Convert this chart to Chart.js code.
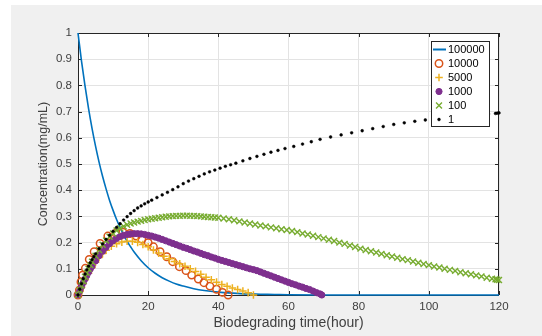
<!DOCTYPE html>
<html>
<head>
<meta charset="utf-8">
<script src="https://cdn.jsdelivr.net/npm/chart.js@4.4.1/dist/chart.umd.min.js"></script>
<style>
  html, body { margin: 0; padding: 0; background: #fff; }
  canvas { display: block; }
</style>
</head>
<body>
<canvas id="conc" width="542" height="336"></canvas>
<script>
// series names (legend)
const seriesNames = ["100000", "10000", "5000", "1000", "100", "1"];

// 100000 - solid line
const t100000 = [0, 1, 2, 3, 4, 5, 6, 7, 8, 9, 10, 11, 12, 13, 14, 15, 16, 18, 20, 22, 24, 26, 28, 30,
  33, 36, 40, 44, 48, 52, 56, 60, 70, 80, 90, 100, 110, 120];
const y100000 = [1, 0.893, 0.798, 0.712, 0.636, 0.568, 0.507, 0.453, 0.405, 0.361, 0.323, 0.288, 0.258,
  0.23, 0.205, 0.184, 0.164, 0.131, 0.104, 0.083, 0.066, 0.053, 0.042, 0.034,
  0.024, 0.017, 0.011, 0.007, 0.004, 0.003, 0.002, 0.001, 0, 0, 0, 0, 0, 0];

// 10000 - open circles
const t10000 = [0, 0.4, 0.85, 1.3, 2.1, 3.2, 4.6, 6.3, 8.5, 10.8, 12.8, 14.8, 16.6, 18.2, 20,
  21.5, 23.4, 25.3, 27, 28.9, 30.8, 32.4, 34.3, 35.9, 37.6, 39.5, 41.2, 42.8];
const y10000 = [0, 0.019, 0.05, 0.076, 0.102, 0.136, 0.165, 0.197, 0.225, 0.236, 0.24, 0.235, 0.225, 0.213, 0.2,
  0.184, 0.165, 0.146, 0.127, 0.108, 0.093, 0.076, 0.061, 0.047, 0.034, 0.022, 0.01, 0];

// 5000 - plus
const t5000 = [0, 0.5, 1, 1.5, 2, 3, 4, 5, 6, 7, 8, 9.5, 11, 12.5, 14, 15.5, 17, 18.5, 20,
  21.5, 23, 24.5, 26, 27.5, 29, 30.5, 32, 33.5, 35, 36.5, 38, 39.5, 41, 42.5, 44, 45.5, 47, 48.5, 50];
const y5000 = [0, 0.015, 0.03, 0.044, 0.058, 0.083, 0.105, 0.125, 0.143, 0.158, 0.171, 0.186, 0.196, 0.202, 0.205, 0.205, 0.201, 0.193, 0.184,
  0.172, 0.16, 0.148, 0.138, 0.128, 0.119, 0.11, 0.1, 0.09, 0.079, 0.068, 0.058, 0.049, 0.04, 0.033, 0.027, 0.021, 0.015, 0.009, 0];

// 1000 - filled circles
const t1000 = [0, 0.5, 1, 1.5, 2, 2.5, 3, 3.5, 4,
  5, 6, 7, 8, 9, 10, 11, 12, 13, 14,
  15, 16, 17, 18, 19, 20, 21, 22, 23, 24,
  25, 26, 27, 28, 29, 30, 31, 32, 33, 34,
  35, 36, 37, 38, 39, 40, 41, 42, 43, 44,
  45, 46, 47, 48, 49, 50, 51, 52, 53, 54,
  55, 56, 57, 58, 59, 60, 61, 62, 63, 64,
  65, 66, 67, 68, 69, 69.5];
const y1000 = [0, 0.016, 0.032, 0.047, 0.061, 0.074, 0.087, 0.099, 0.11,
  0.13, 0.15, 0.167, 0.182, 0.196, 0.207, 0.216, 0.223, 0.228, 0.231,
  0.233, 0.234, 0.234, 0.233, 0.231, 0.228, 0.225, 0.221, 0.217, 0.212,
  0.207, 0.202, 0.197, 0.192, 0.187, 0.182, 0.178, 0.173, 0.168, 0.164,
  0.159, 0.154, 0.15, 0.145, 0.141, 0.136, 0.132, 0.128, 0.124, 0.12,
  0.116, 0.112, 0.108, 0.104, 0.1, 0.097, 0.093, 0.088, 0.083, 0.078,
  0.073, 0.068, 0.063, 0.058, 0.053, 0.048, 0.043, 0.039, 0.034, 0.03,
  0.025, 0.021, 0.015, 0.009, 0.004, 0];

// 100 - x marks
const t100 = [0, 0.5, 1, 1.5, 2, 2.5, 3, 3.5, 4,
  5, 6, 7, 8, 9, 10, 11, 12, 13, 14,
  15, 16, 17, 18, 19, 20, 21, 22, 23, 24,
  25, 26, 27, 28, 29, 30, 31, 32, 33, 34,
  35, 36, 37, 38, 39, 40,
  41.5, 43, 44.5, 46, 47.5, 49, 50.5, 52, 53.5, 55,
  56.5, 58, 59.5, 61, 62.5, 64, 65.5, 67, 68.5, 70,
  71.5, 73, 74.5, 76, 77.5, 79, 80.5, 82, 83.5, 85,
  86.5, 88, 89.5, 91, 92.5, 94, 95.5, 97, 98.5, 100,
  101.5, 103, 104.5, 106, 107.5, 109, 110.5, 112, 113.5, 115,
  116.5, 118, 119, 119.5, 120];
const y100 = [0, 0.018, 0.036, 0.053, 0.07, 0.085, 0.1, 0.114, 0.127,
  0.15, 0.172, 0.192, 0.208, 0.222, 0.235, 0.246, 0.255, 0.262, 0.268,
  0.273, 0.277, 0.28, 0.283, 0.286, 0.289, 0.291, 0.293, 0.295, 0.297,
  0.299, 0.3, 0.301, 0.302, 0.302, 0.303, 0.303, 0.302, 0.302, 0.301,
  0.3, 0.299, 0.298, 0.297, 0.296, 0.295,
  0.292, 0.289, 0.285, 0.281, 0.277, 0.273, 0.269, 0.265, 0.262, 0.258,
  0.255, 0.251, 0.248, 0.244, 0.24, 0.235, 0.231, 0.226, 0.221, 0.216,
  0.211, 0.206, 0.2, 0.195, 0.189, 0.183, 0.177, 0.172, 0.167, 0.162,
  0.157, 0.152, 0.147, 0.142, 0.137, 0.133, 0.128, 0.123, 0.118, 0.114,
  0.109, 0.105, 0.1, 0.096, 0.092, 0.087, 0.083, 0.079, 0.075, 0.071,
  0.066, 0.062, 0.06, 0.058, 0.057];

// 1 - dots
const t1 = [0, 0.5, 1, 1.5, 2, 2.5, 3, 3.5, 4, 4.5,
  5, 6, 7, 8, 9, 10, 11, 12, 13, 14, 15, 16, 17, 18, 19, 20, 21,
  22.5, 24, 25.5, 27, 28.5, 30, 31.5, 33, 34.5, 36, 37.5, 39, 40.5, 42, 43.5, 45,
  47, 49, 51, 53, 55, 57, 59,
  61.5, 64, 66.5, 69,
  72, 75, 78, 81, 84, 87, 90, 93, 96, 99, 102, 105, 108, 111, 114, 117,
  119, 119.5, 120];
const y1 = [0, 0.022, 0.043, 0.062, 0.08, 0.096, 0.11, 0.123, 0.135, 0.146,
  0.157, 0.177, 0.195, 0.212, 0.228, 0.243, 0.258, 0.272, 0.286, 0.299, 0.311, 0.322, 0.332, 0.34, 0.348, 0.355, 0.362,
  0.372, 0.382, 0.392, 0.402, 0.413, 0.425, 0.435, 0.444, 0.453, 0.462, 0.47, 0.477, 0.484, 0.491, 0.497, 0.503,
  0.512, 0.521, 0.529, 0.537, 0.545, 0.552, 0.559,
  0.567, 0.576, 0.585, 0.594,
  0.603, 0.611, 0.619, 0.627, 0.635, 0.643, 0.651, 0.657, 0.663, 0.668, 0.673, 0.677, 0.681, 0.685, 0.688, 0.691,
  0.693, 0.694, 0.695];

const xTicks = [0, 20, 40, 60, 80, 100, 120];
const yTicks = [0, 0.1, 0.2, 0.3, 0.4, 0.5, 0.6, 0.7, 0.8, 0.9, 1];

function pts(xs, ys) {
  return xs.map((x, i) => ({ x: x, y: ys[i] }));
}

const FONT = '"Liberation Sans", Arial, Helvetica, sans-serif';
const AXIS = "#262626";
const LABEL = "#404040";

const datasets = [
  {
    label: seriesNames[0], data: pts(t100000, y100000),
    showLine: true, borderColor: "#0072BD", borderWidth: 1.6, pointRadius: 0,
    cubicInterpolationMode: "monotone", order: 5,
  },
  {
    label: seriesNames[1], data: pts(t10000, y10000),
    pointStyle: "circle", pointRadius: 3.7, borderColor: "#D95319",
    backgroundColor: "rgba(0,0,0,0)", pointBorderWidth: 1.5, order: 4,
  },
  {
    label: seriesNames[2], data: pts(t5000, y5000),
    pointStyle: "cross", pointRadius: 3.8, borderColor: "#EDB120",
    backgroundColor: "#EDB120", pointBorderWidth: 1.5, order: 3,
  },
  {
    label: seriesNames[3], data: pts(t1000, y1000),
    pointStyle: "circle", pointRadius: 3.1, borderColor: "#7E2F8E",
    backgroundColor: "#7E2F8E", pointBorderWidth: 1, order: 2,
  },
  {
    label: seriesNames[4], data: pts(t100, y100),
    pointStyle: "crossRot", pointRadius: 4.2, borderColor: "#77AC30",
    backgroundColor: "#77AC30", pointBorderWidth: 1.4, order: 1,
  },
  {
    label: seriesNames[5], data: pts(t1, y1),
    pointStyle: "circle", pointRadius: 1.4, borderColor: "#000",
    backgroundColor: "#000", pointBorderWidth: 0.5, order: 0,
  },
];
datasets.forEach((d) => { d.clip = false; });

// gray figure background, white axes, box with inward ticks, legend
const matlabFrame = {
  id: "matlabFrame",
  beforeDraw(chart) {
    const { ctx, chartArea: a } = chart;
    ctx.save();
    ctx.fillStyle = "#f0f0f0";
    ctx.fillRect(11, 5, chart.width - 11, chart.height - 5);
    ctx.fillStyle = "#fff";
    ctx.fillRect(a.left, a.top, a.right - a.left, a.bottom - a.top);
    ctx.restore();
  },
  beforeDatasetsDraw(chart) {
    const { ctx, chartArea: a, scales } = chart;
    ctx.save();
    ctx.strokeStyle = AXIS;
    ctx.lineWidth = 1;
    ctx.strokeRect(a.left + 0.5, a.top + 0.5, a.right - a.left - 1, a.bottom - a.top);
    ctx.beginPath();
    yTicks.forEach((v) => {
      const y = Math.round(scales.y.getPixelForValue(v)) + 0.5;
      ctx.moveTo(a.left, y); ctx.lineTo(a.left + 4, y);
      ctx.moveTo(a.right - 4, y); ctx.lineTo(a.right, y);
    });
    xTicks.forEach((v) => {
      const x = Math.round(scales.x.getPixelForValue(v)) + 0.5;
      ctx.moveTo(x, a.bottom); ctx.lineTo(x, a.bottom - 4);
      ctx.moveTo(x, a.top); ctx.lineTo(x, a.top + 4);
    });
    ctx.stroke();
    ctx.restore();
  },
  afterDraw(chart) {
    const { ctx, chartArea: a } = chart;
    const w = 58, h = 85;
    const left = a.right - 10 - w, top = a.top + 8;
    ctx.save();
    ctx.fillStyle = "#fff";
    ctx.fillRect(left, top, w, h);
    ctx.strokeStyle = AXIS;
    ctx.lineWidth = 1;
    ctx.strokeRect(left + 0.5, top + 0.5, w, h);
    ctx.font = "11px " + FONT;
    ctx.textBaseline = "middle";
    chart.data.datasets.forEach((ds, i) => {
      const y = top + 8.5 + i * 14;
      const cx = left + 8;
      if (ds.showLine) {
        ctx.strokeStyle = ds.borderColor;
        ctx.lineWidth = 2;
        ctx.beginPath();
        ctx.moveTo(left + 2, y); ctx.lineTo(left + 15, y);
        ctx.stroke();
      } else {
        ctx.strokeStyle = ds.borderColor;
        ctx.fillStyle = ds.backgroundColor;
        ctx.lineWidth = ds.pointBorderWidth;
        Chart.helpers.drawPoint(ctx, {
          pointStyle: ds.pointStyle,
          radius: ds.pointStyle === "circle" && ds.pointRadius < 2 ? 1.4 : ds.pointRadius,
          rotation: 0,
          borderWidth: ds.pointBorderWidth,
        }, cx, y);
      }
      ctx.fillStyle = "#000";
      ctx.fillText(ds.label, left + 17, y + 0.5);
    });
    ctx.restore();
  },
};

const ctx = document.getElementById("conc");
new Chart(ctx, {
  type: "scatter",
  data: { datasets: datasets },
  plugins: [matlabFrame],
  options: {
    responsive: false,
    animation: false,
    devicePixelRatio: 1,
    layout: { padding: { left: 0, top: 33, right: 43, bottom: 0 } },
    plugins: {
      legend: { display: false },
      tooltip: { enabled: false },
    },
    scales: {
      x: {
        type: "linear",
        min: 0,
        max: 120,
        afterFit: (s) => { s.height = 41; },
        afterBuildTicks: (s) => { s.ticks = xTicks.map((v) => ({ value: v })); },
        ticks: {
          color: LABEL,
          padding: 5,
          maxRotation: 0,
          font: { family: FONT, size: 11.5 },
        },
        grid: { color: "#e3e3e3", drawTicks: false },
        border: { display: false },
        title: {
          display: true,
          text: "Biodegrading time(hour)",
          color: LABEL,
          font: { family: FONT, size: 14 },
          padding: { top: 0, bottom: 4.5 },
        },
      },
      y: {
        type: "linear",
        min: 0,
        max: 1,
        afterFit: (s) => { s.width = 78; },
        afterBuildTicks: (s) => { s.ticks = yTicks.map((v) => ({ value: v })); },
        ticks: {
          color: LABEL,
          padding: 6,
          font: { family: FONT, size: 11.5 },
          callback: (v) => String(+v.toFixed(1)),
        },
        grid: { color: "#e3e3e3", drawTicks: false },
        border: { display: false },
        title: {
          display: true,
          text: "Concentration(mg/mL)",
          color: LABEL,
          font: { family: FONT, size: 12.5 },
          padding: { top: 36, bottom: 0 },
        },
      },
    },
  },
});
</script>
</body>
</html>
